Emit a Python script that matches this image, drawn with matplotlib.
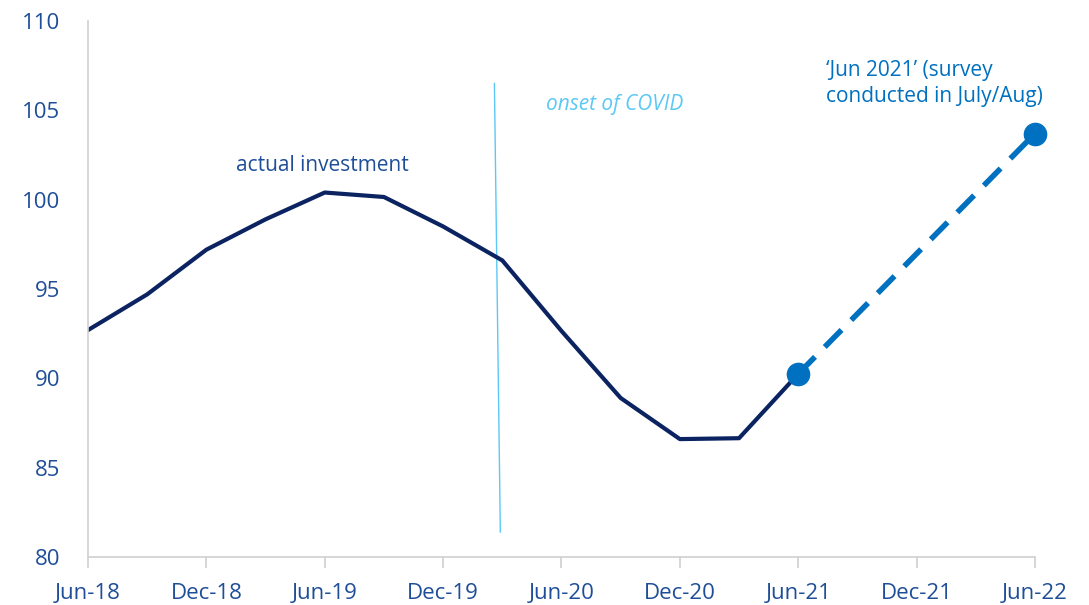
import matplotlib.pyplot as plt

plt.rcParams['font.family'] = ['Open Sans', 'DejaVu Sans']

# months since Jun-18
months = [0, 3, 6, 9, 12, 15, 18, 21, 24, 27, 30, 33, 36]
actual = [92.7, 94.7, 97.2, 98.9, 100.4, 100.15, 98.5, 96.6, 92.65, 88.9, 86.6, 86.65, 90.25]
survey_months = [36, 48]
survey = [90.25, 103.7]
covid_x = [20.6, 20.9]
covid_y = [106.5, 81.4]
tick_months = [0, 6, 12, 18, 24, 30, 36, 42, 48]
tick_labels = ["Jun-18", "Dec-18", "Jun-19", "Dec-19", "Jun-20", "Dec-20", "Jun-21", "Dec-21", "Jun-22"]

navy = "#0B2361"
mid_blue = "#0070C0"
text_blue = "#1F4E99"
light_blue = "#5BC8F5"

fig = plt.figure(figsize=(10.89, 6.05), dpi=100)
ax = fig.add_axes([0.0808, 0.0793, 0.8696, 0.886])

ax.plot(covid_x, covid_y, color=light_blue, lw=1)
ax.plot(months, actual, color=navy, lw=3, solid_joinstyle="round")
ax.plot(survey_months, survey, color=mid_blue, lw=4, ls=(0, (4.3, 2.5)),
        marker="o", markersize=16, clip_on=False, zorder=3)

ax.set_xlim(0, 48)
ax.set_ylim(80, 110)
ax.set_xticks(tick_months)
ax.set_xticklabels(tick_labels)
ax.set_yticks([80, 85, 90, 95, 100, 105, 110])

for s in ["top", "right"]:
    ax.spines[s].set_visible(False)
for s in ["left", "bottom"]:
    ax.spines[s].set_color("#D0D0D0")
    ax.spines[s].set_linewidth(1.2)

ax.tick_params(axis="x", colors="#D0D0D0", length=8, width=1.2, labelcolor=text_blue,
               labelsize=16, pad=11)
ax.tick_params(axis="y", length=0, labelcolor=text_blue, labelsize=16, pad=20)

ax.text(11.9, 101.9, "actual investment", color=text_blue, fontsize=15, ha="center", va="center")
ax.text(23.2, 105.35, "onset of COVID", color=light_blue, fontsize=15, style="italic",
        ha="left", va="center")
ax.text(37.4, 106.5, "\u2018Jun 2021\u2019 (survey\nconducted in July/Aug)", color=mid_blue,
        fontsize=15, ha="left", va="center", linespacing=1.3)

fig.savefig("out.png", dpi=100)
